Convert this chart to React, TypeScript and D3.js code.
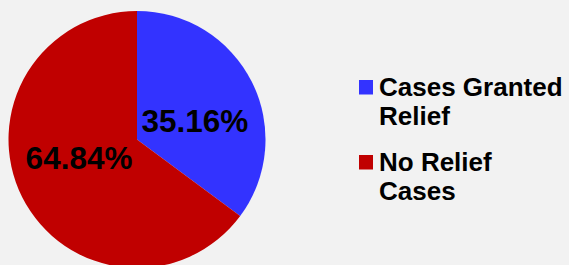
import React from 'react'
import * as d3 from 'd3'

const categories = ['Cases Granted Relief', 'No Relief Cases']
const values = [35.16, 64.84]
const colors = ['#3333ff', '#c00000']
const legendLines = [['Cases Granted', 'Relief'], ['No Relief', 'Cases']]

const width = 569
const height = 265

export default function App() {
  const cx = 137
  const cy = 139.5
  const radius = 128.5

  const pie = d3.pie<number>().sort(null).value(d => d)
  const arcs = pie(values)
  const arc = d3.arc<d3.PieArcDatum<number>>().innerRadius(0).outerRadius(radius)

  // labels sit a bit clockwise of the slice middle, like the source
  const labelR = 61
  const labelShift = 0.15
  const fmt = (v: number) => v.toFixed(2) + '%'

  const legendX = 359
  const legendY = d3.scaleOrdinal<string, number>().domain(categories).range([80, 155])

  return (
    <svg width={width} height={height}
      style={{ position: 'fixed', left: 0, top: 0, background: '#f2f2f2' }}
      fontFamily="'Liberation Sans', Arial, sans-serif" fontWeight="bold">
      <rect width={width} height={height} fill="#f2f2f2" />
      <g transform={`translate(${cx}, ${cy})`}>
        {arcs.map((a, i) => (
          <path key={i} d={arc(a) || ''} fill={colors[i]} />
        ))}
        {arcs.map((a, i) => {
          const mid = (a.startAngle + a.endAngle) / 2 + labelShift
          const x = labelR * Math.sin(mid)
          const y = -labelR * Math.cos(mid)
          return (
            <text key={i} x={x} y={y + 11} textAnchor="middle" fontSize={31.5} fill="#000">
              {fmt(values[i])}
            </text>
          )
        })}
      </g>
      {categories.map((c, i) => (
        <g key={c} transform={`translate(${legendX}, ${legendY(c)})`}>
          <rect width={14} height={14.5} fill={colors[i]} />
          {legendLines[i].map((ln, j) => (
            <text key={j} x={20} y={15.5 + j * 29} fontSize={26} fill="#000">{ln}</text>
          ))}
        </g>
      ))}
    </svg>
  )
}
